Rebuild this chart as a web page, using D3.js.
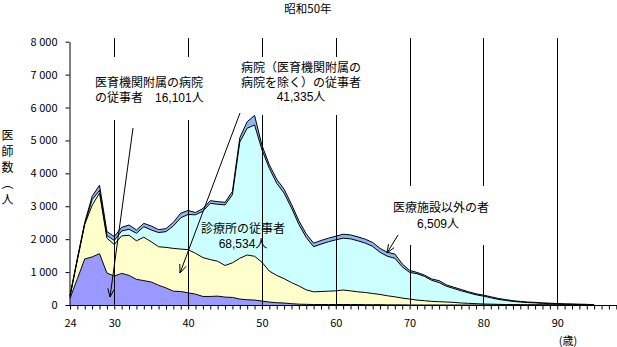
<!DOCTYPE html>
<html lang="ja"><head><meta charset="utf-8">
<script src="https://cdn.jsdelivr.net/npm/d3@7"></script>
<style>
body{margin:0;background:#fff}
svg{display:block}
text{font-family:"Noto Sans CJK JP","Noto Sans",sans-serif;fill:#000}
text.lbl{font-family:"Liberation Sans","Noto Sans CJK JP",sans-serif}
</style>
</head><body><svg id="c" width="617" height="347"></svg>
<script>
// ---------- data ----------
const title = "昭和50年";
const ages = [24,25,26,27,28,29,30,31,32,33,34,35,36,37,38,39,40,41,42,43,44,45,46,47,48,49,
  50,51,52,53,54,55,56,57,58,59,60,61,62,63,64,65,66,67,68,69,70,71,72,73,74,75,76,77,78,79,
  80,81,82,83,84,85,86,87,88,89,90,91,92,93,94,95];
// 医育機関附属の病院の従事者
const univHosp = [200,800,1400,1460,1560,970,880,960,900,780,740,700,600,520,420,410,370,330,260,260,270,240,230,180,160,150,
  120,90,70,60,40,25,20,15,15,15,15,15,15,15,10,10,10,5,5,5,0,0,0,0,0,0,0,0,0,0,
  0,0,0,0,0,0,0,0,0,0,0,0,0,0,0,0];
// 病院（医育機関附属の病院を除く）の従事者
const hospital = [50,570,1050,1570,1840,1060,960,1140,1220,1170,1320,1220,1170,1230,1300,1290,1310,1240,1180,1120,1060,960,1050,1240,1360,1330,
  1180,940,830,740,640,555,440,385,395,405,415,440,415,385,370,340,310,275,245,205,180,150,130,110,100,90,80,60,50,40,
  30,25,20,15,10,8,5,4,3,2,1,0,0,0,0,0];
// 診療所の従事者
const clinic = [20,20,30,170,80,80,120,150,180,230,320,360,430,480,680,950,1070,1170,1410,1710,1730,1840,2070,3530,3850,3990,
  3420,3120,2800,2600,2270,1870,1590,1370,1440,1500,1550,1575,1580,1550,1500,1430,1280,1200,1170,950,810,800,740,640,580,480,420,370,320,270,
  240,195,150,125,100,82,70,61,47,38,29,25,20,15,10,0];
// 医療施設以外の者
const other = [30,30,30,100,160,120,120,110,130,100,100,120,90,90,110,140,120,70,80,80,80,80,100,130,200,290,
  130,110,120,120,110,110,110,110,110,110,110,120,120,120,120,120,120,120,130,90,60,40,40,40,60,40,40,40,30,30,
  30,30,30,25,20,20,15,15,15,15,15,10,10,10,10,0];
const seriesNames = ["univHosp","hospital","clinic","other"];
const seriesColors = ["#9999ff","#ffffcc","#ccffff","#8fb6f2"];
const xTickLabels = [24,30,40,50,60,70,80,90];
const gridAges = [30,40,50,60,70,80,90];
const yTicks = [0,1000,2000,3000,4000,5000,6000,7000,8000];
const yTitle = "医師数（人";
const xUnit = "(歳)";
const labelUniv = ["医育機関附属の病院","の従事者　16,101人"];
const labelHosp = ["病院（医育機関附属の","病院を除く）の従事者","41,335人"];
const labelClinic = ["診療所の従事者","68,534人"];
const labelOther = ["医療施設以外の者","6,509人"];

// ---------- build ----------
const rows = ages.map((a,i)=>({age:a, univHosp:univHosp[i], hospital:hospital[i], clinic:clinic[i], other:other[i]}));
const svg = d3.select("#c");
svg.append("rect").attr("width",617).attr("height",347).attr("fill","#fff");

const x = d3.scaleLinear().domain([24,98]).range([70,616.3]);
const y = d3.scaleLinear().domain([0,8000]).range([305,41.7]);

const layers = d3.stack().keys(seriesNames)(rows);
const area = d3.area().x(d=>x(d.data.age)).y0(d=>y(d[0])).y1(d=>y(d[1]));
const topLine = d3.line().x(d=>x(d.data.age)).y(d=>y(d[1]));

svg.append("g").selectAll("path").data(layers).join("path")
  .attr("d",area).attr("fill",(d,i)=>seriesColors[i]).attr("stroke","none");
svg.append("g").selectAll("path").data(layers).join("path")
  .attr("d",topLine).attr("fill","none").attr("stroke","#000").attr("stroke-width",1);

// grid lines
svg.append("g").selectAll("line").data(gridAges).join("line")
  .attr("x1",d=>Math.round(x(d))+0.5).attr("x2",d=>Math.round(x(d))+0.5)
  .attr("y1",38).attr("y2",305).attr("stroke","#000").attr("stroke-width",1);

// text boxes (white backgrounds)
const boxes = [[88,57,146,63],[236,57,130,58],[388,186,104,59]];
svg.append("g").selectAll("rect").data(boxes).join("rect")
  .attr("x",d=>d[0]).attr("y",d=>d[1]).attr("width",d=>d[2]).attr("height",d=>d[3]).attr("fill","#fff");

// axes
const yAxis = d3.axisLeft(y).tickValues(yTicks).tickSize(4).tickSizeOuter(0).tickPadding(8)
  .tickFormat(d=>{const s=String(d); return s.length>3 ? s.slice(0,s.length-3)+" "+s.slice(-3) : s;});
const gy = svg.append("g").attr("transform","translate(69.5,0)").call(yAxis);
gy.selectAll("text").attr("font-size",11).attr("font-family",'"Noto Sans CJK JP",sans-serif');
gy.select(".domain").attr("stroke","#000");
gy.selectAll(".tick line").attr("stroke","#000");

const xTickVals = d3.range(24,99);
const xAxis = d3.axisBottom(x).tickValues(xTickVals).tickSize(4).tickSizeOuter(0).tickPadding(10)
  .tickFormat(d=>xTickLabels.includes(d)?String(d):"");
const gx = svg.append("g").attr("transform","translate(0,305.5)").call(xAxis);
gx.select(".domain").attr("d","M69,0H617").attr("stroke","#000");
gx.selectAll("text").attr("font-size",11).attr("font-family",'"Noto Sans CJK JP",sans-serif');
gx.selectAll(".tick line").attr("stroke","#000");

// title
svg.append("text").attr("x",308).attr("y",13).attr("text-anchor","middle").attr("font-size",11.5).text(title);
// y title (vertical)
svg.append("text").attr("x",7.5).attr("y",129).attr("font-size",12)
  .style("writing-mode","vertical-rl").attr("letter-spacing",4).text(yTitle);
svg.append("text").attr("x",568).attr("y",345).attr("text-anchor","middle").attr("font-size",11).text(xUnit);

// labels
function block(arr, xs, y0, dy, anchor){
  const t = svg.append("text").attr("class","lbl").attr("font-size",12).attr("text-anchor",anchor);
  arr.forEach((s,i)=>t.append("tspan").attr("x",Array.isArray(xs)?xs[i]:xs).attr("y",y0+i*dy).text(s));
}
block(labelUniv,95,87,14.5,"start");
block(labelHosp,301,72,14.7,"middle");
block(labelClinic,243,233,15,"middle");
block(labelOther,[393,417],212,16,"start");

// arrows
const arrows = [[133,128,110,297],[240,113,180,273],[398,235,387,253]];
const ga = svg.append("g").attr("stroke","#000").attr("stroke-width",1).attr("fill","none");
arrows.forEach(([x1,y1,x2,y2])=>{
  ga.append("line").attr("x1",x1).attr("y1",y1).attr("x2",x2).attr("y2",y2);
  const ang = Math.atan2(y1-y2,x1-x2), L=9, s=0.38;
  ga.append("path").attr("d",`M${x2+L*Math.cos(ang+s)},${y2+L*Math.sin(ang+s)}L${x2},${y2}L${x2+L*Math.cos(ang-s)},${y2+L*Math.sin(ang-s)}`);
});
</script>
</body></html>
